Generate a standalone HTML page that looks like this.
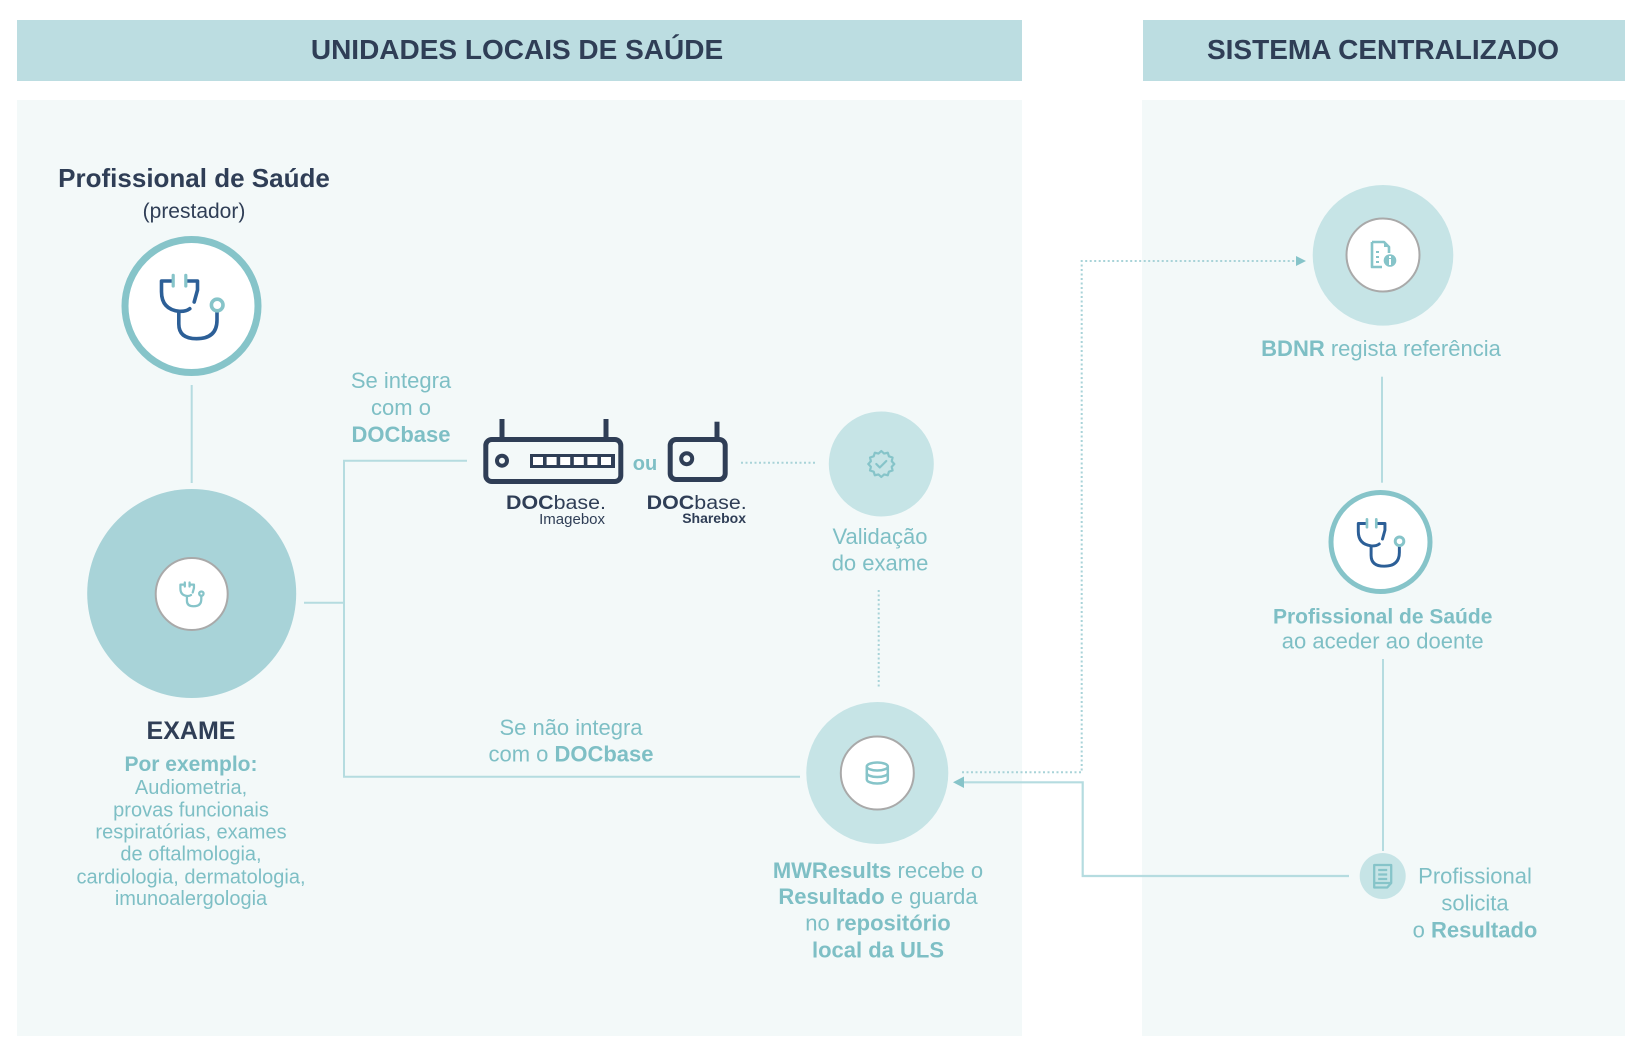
<!DOCTYPE html>
<html><head><meta charset="utf-8">
<style>
html,body{margin:0;padding:0;background:#fff;}
svg{display:block;}
text{font-family:"Liberation Sans",sans-serif;}
</style></head>
<body>
<svg width="1640" height="1052" viewBox="0 0 1640 1052" xmlns="http://www.w3.org/2000/svg">
<rect x="0" y="0" width="1640" height="1052" fill="#ffffff"/>
<!-- headers -->
<rect x="17" y="20" width="1005" height="61" fill="#bcdde1"/>
<rect x="1143" y="20" width="482" height="61" fill="#bcdde1"/>
<text x="517" y="59" font-size="28" font-weight="bold" fill="#2f3e56" text-anchor="middle">UNIDADES LOCAIS DE SAÚDE</text>
<text x="1383" y="59" font-size="28" font-weight="bold" fill="#2f3e56" text-anchor="middle">SISTEMA CENTRALIZADO</text>
<!-- panels -->
<rect x="17" y="100" width="1005" height="936" fill="#f3f9f9"/>
<rect x="1142" y="100" width="483" height="936" fill="#f3f9f9"/>

<!-- Profissional de Saude (prestador) -->
<text x="194" y="187" font-size="26" font-weight="bold" fill="#2f3e56" text-anchor="middle">Profissional de Saúde</text>
<text x="194" y="218" font-size="21" fill="#2f3e56" text-anchor="middle">(prestador)</text>

<circle cx="191.5" cy="306" r="66.5" fill="#ffffff" stroke="#86c4c9" stroke-width="7"/>
<g transform="translate(191.5,306)" fill="none" stroke-linecap="round" stroke-linejoin="round">
  <path d="M-19,-25 H-30 V-14.3 Q-30,3.3 -12.3,5.3 Q-5.7,5.7 -1.7,2.7" stroke="#2c5f97" stroke-width="3.6"/>
  <path d="M-5,-25 H6 V-16 L2.7,-4" stroke="#2c5f97" stroke-width="3.6"/>
  <path d="M-12.7,5.7 V18 Q-12.7,32.7 5,32.7 Q25.5,32.7 25.5,14 V5.5" stroke="#2c5f97" stroke-width="3.6"/>
  <path d="M-18.3,-30.7 V-20 M-5.7,-30.7 V-20" stroke="#86c4c9" stroke-width="3.2"/>
  <circle cx="25.7" cy="-1" r="5.8" stroke="#86c4c9" stroke-width="3.6"/>
</g>

<line x1="191.7" y1="385" x2="191.7" y2="483" stroke="#b5dce0" stroke-width="2"/>

<!-- Exame circle -->
<circle cx="191.7" cy="593.5" r="104.5" fill="#a8d3d8"/>
<circle cx="191.7" cy="594" r="36" fill="#ffffff" stroke="#a9a9a9" stroke-width="2"/>
<g transform="translate(191.7,594) scale(0.376)" fill="none" stroke="#86c4c9" stroke-linecap="round" stroke-linejoin="round" stroke-width="6">
  <path d="M-19,-25 H-30 V-14.3 Q-30,3.3 -12.3,5.3 Q-5.7,5.7 -1.7,2.7"/>
  <path d="M-5,-25 H6 V-16 L2.7,-4"/>
  <path d="M-12.7,5.7 V18 Q-12.7,32.7 5,32.7 Q25.5,32.7 25.5,14 V5.5"/>
  <path d="M-18.3,-30.7 V-20 M-5.7,-30.7 V-20"/>
  <circle cx="25.7" cy="-1" r="5.8"/>
</g>

<text x="191" y="739" font-size="25" font-weight="bold" fill="#2f3e56" text-anchor="middle">EXAME</text>
<g font-size="20" fill="#7ebfc5" text-anchor="middle">
  <text x="191" y="771" font-size="21" font-weight="bold">Por exemplo:</text>
  <text x="191" y="794">Audiometria,</text>
  <text x="191" y="816.7">provas funcionais</text>
  <text x="191" y="838.5">respiratórias, exames</text>
  <text x="191" y="860.7">de oftalmologia,</text>
  <text x="191" y="883.3">cardiologia, dermatologia,</text>
  <text x="191" y="905">imunoalergologia</text>
</g>

<!-- connectors left -->
<g stroke="#b5dce0" stroke-width="2" fill="none">
  <line x1="304" y1="602.7" x2="344" y2="602.7"/>
  <line x1="344" y1="460.7" x2="344" y2="776.7"/>
  <line x1="343" y1="460.7" x2="467" y2="460.7"/>
  <line x1="343" y1="776.7" x2="800" y2="776.7"/>
</g>

<g font-size="22" fill="#7ebfc5" text-anchor="middle">
  <text x="401" y="388">Se integra</text>
  <text x="401" y="415">com o</text>
  <text x="401" y="442" font-weight="bold">DOCbase</text>
  <text x="571" y="735">Se não integra</text>
  <text x="571" y="761.7">com o <tspan font-weight="bold">DOCbase</tspan></text>
</g>

<!-- Imagebox router -->
<g stroke="#2f3e56" fill="none" stroke-width="5">
  <rect x="485.8" y="439.5" width="135" height="42" rx="6"/>
  <line x1="502" y1="419" x2="502" y2="438"/>
  <line x1="606" y1="419" x2="606" y2="438"/>
  <circle cx="502" cy="460.7" r="5" stroke-width="4"/>
  <rect x="670.2" y="439.5" width="55" height="40" rx="6"/>
  <line x1="717" y1="421.7" x2="717" y2="438"/>
  <circle cx="686.7" cy="458.7" r="5.5" stroke-width="4"/>
</g>
<rect x="530" y="454" width="85" height="14" fill="#2f3e56"/>
<g fill="#ffffff">
  <rect x="533" y="457" width="10" height="8"/>
  <rect x="546.6" y="457" width="10" height="8"/>
  <rect x="560.2" y="457" width="10" height="8"/>
  <rect x="573.8" y="457" width="10" height="8"/>
  <rect x="587.4" y="457" width="10" height="8"/>
  <rect x="601" y="457" width="10" height="8"/>
</g>
<text x="645" y="470" font-size="20" font-weight="bold" fill="#7ebfc5" text-anchor="middle">ou</text>

<text x="506" y="509" font-size="19" fill="#2f3e56" textLength="100" lengthAdjust="spacingAndGlyphs"><tspan font-weight="bold">DOC</tspan>base.</text>
<text x="605" y="524" font-size="15" fill="#2f3e56" text-anchor="end">Imagebox</text>
<text x="646.7" y="509" font-size="19" fill="#2f3e56" textLength="100" lengthAdjust="spacingAndGlyphs"><tspan font-weight="bold">DOC</tspan>base.</text>
<text x="746" y="523" font-size="14" font-weight="bold" fill="#2f3e56" text-anchor="end">Sharebox</text>

<!-- dotted from sharebox to validation -->
<line x1="741" y1="462.7" x2="817" y2="462.7" stroke="#a8d3d8" stroke-width="2" stroke-dasharray="2 2.5"/>

<!-- Validation -->
<circle cx="881.3" cy="464" r="52.5" fill="#c6e4e6"/>
<g transform="translate(881.3,464)" fill="none" stroke="#86c4c9" stroke-width="2.2" stroke-linejoin="round" stroke-linecap="round">
  <polygon points="13,0 10.43,2.8 11.26,6.5 7.64,7.64 6.5,11.26 2.8,10.43 0,13 -2.8,10.43 -6.5,11.26 -7.64,7.64 -11.26,6.5 -10.43,2.8 -13,0 -10.43,-2.8 -11.26,-6.5 -7.64,-7.64 -6.5,-11.26 -2.8,-10.43 0,-13 2.8,-10.43 6.5,-11.26 7.64,-7.64 11.26,-6.5 10.43,-2.8"/>
  <polyline points="-5,0 -1.5,3.5 5,-3"/>
</g>
<g font-size="22" fill="#7ebfc5" text-anchor="middle">
  <text x="880" y="544">Validação</text>
  <text x="880" y="570.7">do exame</text>
</g>
<line x1="878.7" y1="590" x2="878.7" y2="687" stroke="#a8d3d8" stroke-width="2" stroke-dasharray="2 2.5"/>

<!-- MWResults -->
<circle cx="877.3" cy="773" r="71" fill="#c6e4e6"/>
<circle cx="877.3" cy="773" r="36.5" fill="#ffffff" stroke="#a9a9a9" stroke-width="2"/>
<g transform="translate(877.3,773)" fill="none" stroke="#86c4c9" stroke-width="2.5">
  <ellipse cx="0" cy="-6.5" rx="10.5" ry="4"/>
  <path d="M-10.5,-6.5 V6.5 A10.5,4 0 0 0 10.5,6.5 V-6.5"/>
  <path d="M-10.5,0 A10.5,4 0 0 0 10.5,0"/>
</g>
<g font-size="22" fill="#7ebfc5" text-anchor="middle">
  <text x="878" y="878"><tspan font-weight="bold">MWResults</tspan> recebe o</text>
  <text x="878" y="904"><tspan font-weight="bold">Resultado</tspan> e guarda</text>
  <text x="878" y="930.7">no <tspan font-weight="bold">repositório</tspan></text>
  <text x="878" y="957.3" font-weight="bold">local da ULS</text>
</g>

<!-- dotted path to BDNR -->
<path d="M962,772.3 H1081.7 V261 H1296" fill="none" stroke="#a8d3d8" stroke-width="2" stroke-dasharray="2 2.5"/>
<polygon points="1296,256 1306,261 1296,266" fill="#86c4c9"/>

<!-- solid path from Profissional solicita -->
<path d="M1349,876 H1082.7 V782.3 H962" fill="none" stroke="#b5dce0" stroke-width="2.2"/>
<polygon points="953,782.3 964,776.5 964,788" fill="#86c4c9"/>

<!-- BDNR -->
<circle cx="1383" cy="255.3" r="70.3" fill="#c6e4e6"/>
<circle cx="1383" cy="255" r="36.5" fill="#ffffff" stroke="#a9a9a9" stroke-width="2"/>
<g transform="translate(1383,255)">
  <path d="M-11,-13 H1 L6,-8 V-2 M-11,-13 V12 H-1" fill="none" stroke="#86c4c9" stroke-width="2.6" stroke-linejoin="round"/>
  <path d="M1,-13 V-8 H6 Z" fill="#86c4c9"/>
  <path d="M-7,-3 H-4 M-7,2 H-4 M-7,7 H-4" stroke="#86c4c9" stroke-width="2"/>
  <circle cx="7" cy="5.5" r="6.3" fill="#86c4c9"/>
  <rect x="6" y="4" width="2" height="6" fill="#ffffff"/>
  <rect x="6" y="1" width="2" height="2" fill="#ffffff"/>
</g>
<text x="1381" y="356" font-size="22" fill="#7ebfc5" text-anchor="middle"><tspan font-weight="bold">BDNR</tspan> regista referência</text>
<line x1="1382" y1="376.7" x2="1382" y2="482.7" stroke="#b5dce0" stroke-width="2"/>

<!-- Stethoscope right -->
<circle cx="1380.5" cy="542" r="49.5" fill="#ffffff" stroke="#86c4c9" stroke-width="5"/>
<g transform="translate(1380.5,542) scale(0.74)" fill="none" stroke-linecap="round" stroke-linejoin="round">
  <path d="M-19,-25 H-30 V-14.3 Q-30,3.3 -12.3,5.3 Q-5.7,5.7 -1.7,2.7" stroke="#2c5f97" stroke-width="4"/>
  <path d="M-5,-25 H6 V-16 L2.7,-4" stroke="#2c5f97" stroke-width="4"/>
  <path d="M-12.7,5.7 V18 Q-12.7,32.7 5,32.7 Q25.5,32.7 25.5,14 V5.5" stroke="#2c5f97" stroke-width="4"/>
  <path d="M-18.3,-30.7 V-20 M-5.7,-30.7 V-20" stroke="#86c4c9" stroke-width="3.6"/>
  <circle cx="25.7" cy="-1" r="5.8" stroke="#86c4c9" stroke-width="4"/>
</g>
<g font-size="22" fill="#7ebfc5" text-anchor="middle">
  <text x="1382.7" y="623.3" font-weight="bold" font-size="21">Profissional de Saúde</text>
  <text x="1382.7" y="648.3">ao aceder ao doente</text>
</g>
<line x1="1383" y1="659" x2="1383" y2="851" stroke="#b5dce0" stroke-width="2"/>

<!-- Profissional solicita -->
<circle cx="1382.7" cy="876" r="23" fill="#c6e4e6"/>
<g transform="translate(1382.7,876)" fill="none" stroke="#86c4c9" stroke-width="2.3" stroke-linejoin="round">
  <path d="M-8.5,-11 H8.5 V7 L4.5,11.5 H-8.5 Z"/>
  <path d="M-4.5,-6 H4.5 M-4.5,-1.5 H4.5 M-4.5,3 H4.5"/>
  <path d="M-8.5,7 H8.5" />
</g>
<g font-size="22" fill="#7ebfc5" text-anchor="middle">
  <text x="1475" y="883.3">Profissional</text>
  <text x="1475" y="910.7">solicita</text>
  <text x="1475" y="937.3">o <tspan font-weight="bold">Resultado</tspan></text>
</g>
</svg>
</body></html>
